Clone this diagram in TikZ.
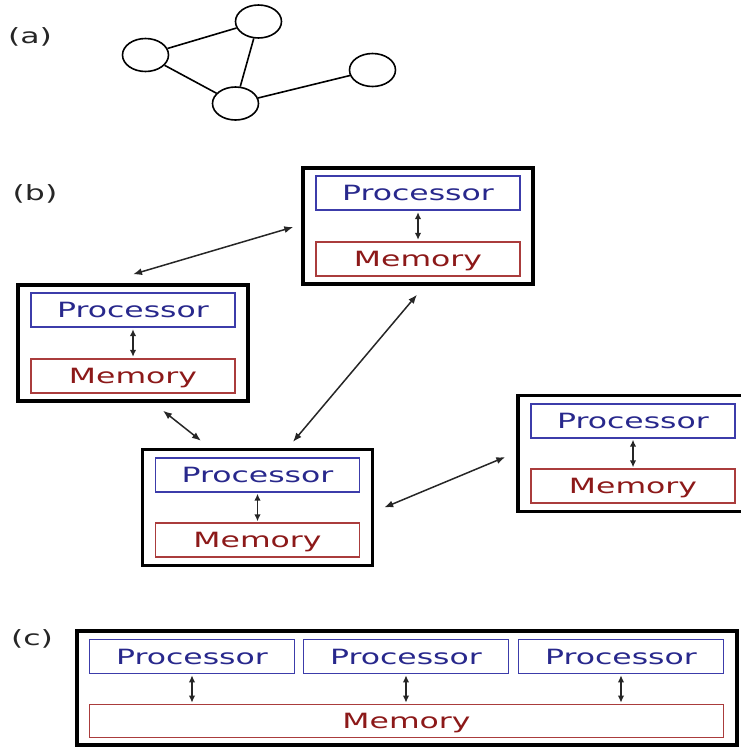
\documentclass[tikz,border=0pt]{standalone}
\usepackage{fontspec}
\setmainfont[FakeStretch=1.5]{DejaVu Sans}
\usetikzlibrary{shapes.geometric,arrows.meta,calc}
\definecolor{proctext}{RGB}{40,40,140}
\definecolor{procborder}{RGB}{60,60,170}
\definecolor{memtext}{RGB}{140,25,25}
\definecolor{memborder}{RGB}{170,60,60}
\begin{document}
\begin{tikzpicture}[x=1pt,y=-1pt,
  vertex/.style={ellipse, draw, line width=1.6pt, minimum width=46pt, minimum height=33pt, inner sep=0pt},
  edge/.style={line width=1.6pt},
  outerbox/.style={draw, line width=3.4pt, minimum width=230pt, minimum height=116pt, inner sep=0pt},
  txt/.style={font=\fontsize{21}{24}\selectfont, text height=17pt, text depth=2pt, inner sep=0pt},
  proc/.style={txt, draw=procborder, text=proctext, line width=1.7pt, minimum width=204pt, minimum height=34pt},
  mem/.style={txt, draw=memborder, text=memtext, line width=1.7pt, minimum width=204pt, minimum height=34pt},
  link/.style={{Latex[length=9pt,width=7pt]}-{Latex[length=9pt,width=7pt]}, line width=1.5pt, black!85},
  inlink/.style={{Latex[length=7pt,width=6.5pt]}-{Latex[length=7pt,width=6.5pt]}, line width=1.7pt, black!85, shorten <=1pt, shorten >=1pt},
  lbl/.style={txt, black!85}
]
\useasboundingbox (0,0) rectangle (741,747);
\clip (0,0) rectangle (741,747);

% (a)
\node[lbl] (la) at (30,36) {(a)};
\node[vertex] (v1) at (258.5,21.5) {};
\node[vertex] (v2) at (145.5,55) {};
\node[vertex] (v3) at (235.5,103.5) {};
\node[vertex] (v4) at (372.5,70) {};
\draw[edge] (v2) -- (v1);
\draw[edge] (v2) -- (v3);
\draw[edge] (v1) -- (v3);
\draw[edge] (v3) -- (v4);

% (b)
\node[lbl] (lb) at (35,193) {(b)};
\newcommand{\pmbox}[2]{%
  \node[outerbox] (#1) at (#2) {};
  \node[proc] (#1p) at ($(#1.north)+(0,27)$) {Processor};
  \node[mem] (#1m) at ($(#1.south)+(0,-27)$) {Memory};
  \draw[inlink] (#1p.south) -- (#1m.north);
}
\pmbox{T}{418,226}
\pmbox{L}{133,343}
\pmbox{M}{257.5,507.5}
\pmbox{R}{633,453.5}

\draw[link] ($(L.north)+(0,-9)$) -- ($(T.west)+(-8,1)$);
\draw[link] ($(T.south)+(-1,9)$) -- ($(M.north)+(35.5,-6)$);
\draw[link] ($(L.south)+(30,8)$) -- ($(M.north)+(-56.5,-7)$);
\draw[link] ($(M.east)+(10,0)$) -- ($(R.west)+(-11,3.5)$);

% (c)
\node[lbl] (lc) at (32,638) {(c)};
\node[draw, line width=3.4pt, minimum width=660pt, minimum height=114pt, inner sep=0pt] (C) at (407,688) {};
\node[proc, minimum width=205pt] (C1) at (192,656.5) {Processor};
\node[proc, minimum width=205pt] (C2) at (406,656.5) {Processor};
\node[proc, minimum width=205pt] (C3) at (621,656.5) {Processor};
\node[mem, minimum width=634pt, minimum height=33pt] (CM) at (406.5,721) {Memory};
\draw[inlink] (C1.south) -- (C1.south |- CM.north);
\draw[inlink] (C2.south) -- (C2.south |- CM.north);
\draw[inlink] (C3.south) -- (C3.south |- CM.north);
\end{tikzpicture}
\end{document}
